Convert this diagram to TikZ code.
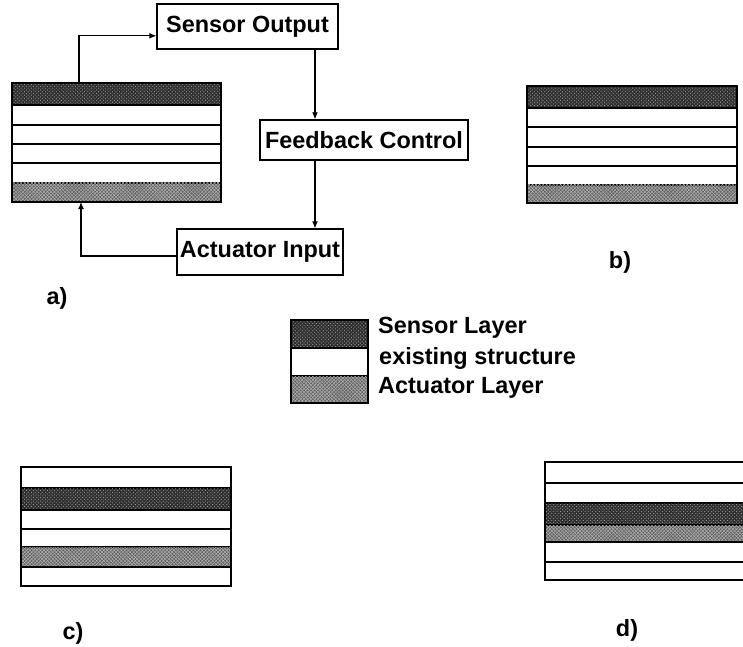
\documentclass[tikz,border=0pt]{standalone}
\usepackage{fontspec}
\setmainfont{Liberation Sans}
\usetikzlibrary{arrows.meta,patterns}

\tikzset{
    sensor/.style={draw, line width=1.2pt, fill=black!82,
        postaction={pattern=crosshatch dots, pattern color=black!35}},
    actuator/.style={draw, line width=1.2pt, fill=black!62,
        postaction={pattern=crosshatch, pattern color=white!70!black}},
    plain/.style={draw, line width=1.2pt, fill=white},
    box/.style={draw, line width=1.1pt, inner sep=0pt,
        font=\bfseries\fontsize{20}{22}\selectfont},
    lbl/.style={font=\bfseries\fontsize{20}{22}\selectfont},
    sig/.style={line width=0.9pt, -{Latex[length=6pt,width=5pt]}}
}

\begin{document}
\begin{tikzpicture}[x=0.03cm, y=-0.03cm]
        \clip (0,0) rectangle (743,647);

        % stack a)
        \foreach \ya/\yb/\kind in {83/105/sensor, 105/125/plain, 125/144/plain,
                                   144/163/plain, 163/183/plain, 183/202/actuator}
            \path[\kind] (12,\ya) rectangle (221,\yb);
        \draw[line width=1.2pt] (12,83) rectangle (221,202);
        \coordinate (aTop) at (79,83);
        \coordinate (aBot) at (81,202);

        % control loop
        \node[box, minimum width=5.43cm, minimum height=1.35cm] (sensor) at (247.5,26.5) {Sensor Output};
        \node[box, minimum width=6.24cm, minimum height=1.2cm] (feedback) at (364,140) {Feedback Control};
        \node[box, minimum width=4.98cm, minimum height=1.38cm] (actuator) at (260,252) {Actuator Input};
        \coordinate (loop) at (315,0);

        \draw[sig] (aTop) |- ([yshift=-0.28cm]sensor.west);
        \draw[sig] (sensor.south -| loop) -- (feedback.north -| loop);
        \draw[sig] (feedback.south -| loop) -- (actuator.north -| loop);
        \draw[sig] ([yshift=-0.12cm]actuator.west) -| (aBot);

        % stack b)
        \foreach \ya/\yb/\kind in {86/108/sensor, 108/127/plain, 127/147/plain,
                                   147/166/plain, 166/185/plain, 185/203/actuator}
            \path[\kind] (527,\ya) rectangle (737,\yb);
        \draw[line width=1.2pt] (527,86) rectangle (737,203);

        % legend
        \path[sensor] (291,320) rectangle (368,348);
        \path[plain] (291,348) rectangle (368,376);
        \path[actuator] (291,376) rectangle (368,403);
        \draw[line width=1.2pt] (291,320) rectangle (368,403);
        \node[lbl, anchor=base west, inner sep=0pt] (legS) at (378,333) {Sensor Layer};
        \node[lbl, anchor=base west, inner sep=0pt] (legE) at (379,364) {existing structure};
        \node[lbl, anchor=base west, inner sep=0pt] (legA) at (378,393) {Actuator Layer};

        % stack c)
        \foreach \ya/\yb/\kind in {467/488/plain, 488/510/sensor, 510/529/plain,
                                   529/547/plain, 547/567/actuator, 567/586/plain}
            \path[\kind] (21,\ya) rectangle (231,\yb);
        \draw[line width=1.2pt] (21,467) rectangle (231,586);

        % stack d)
        \foreach \ya/\yb/\kind in {462/483/plain, 483/503/plain, 503/525/sensor,
                                   525/542/actuator, 542/562/plain, 562/580/plain}
            \path[\kind] (545,\ya) rectangle (760,\yb);
        \draw[line width=1.2pt] (545,462) rectangle (760,580);

        % labels
        \node[lbl] (la) at (57,298) {a)};
        \node[lbl] (lb) at (620,262) {b)};
        \node[lbl] (lc) at (73,633) {c)};
        \node[lbl] (ld) at (627,630) {d)};

\end{tikzpicture}
\end{document}
